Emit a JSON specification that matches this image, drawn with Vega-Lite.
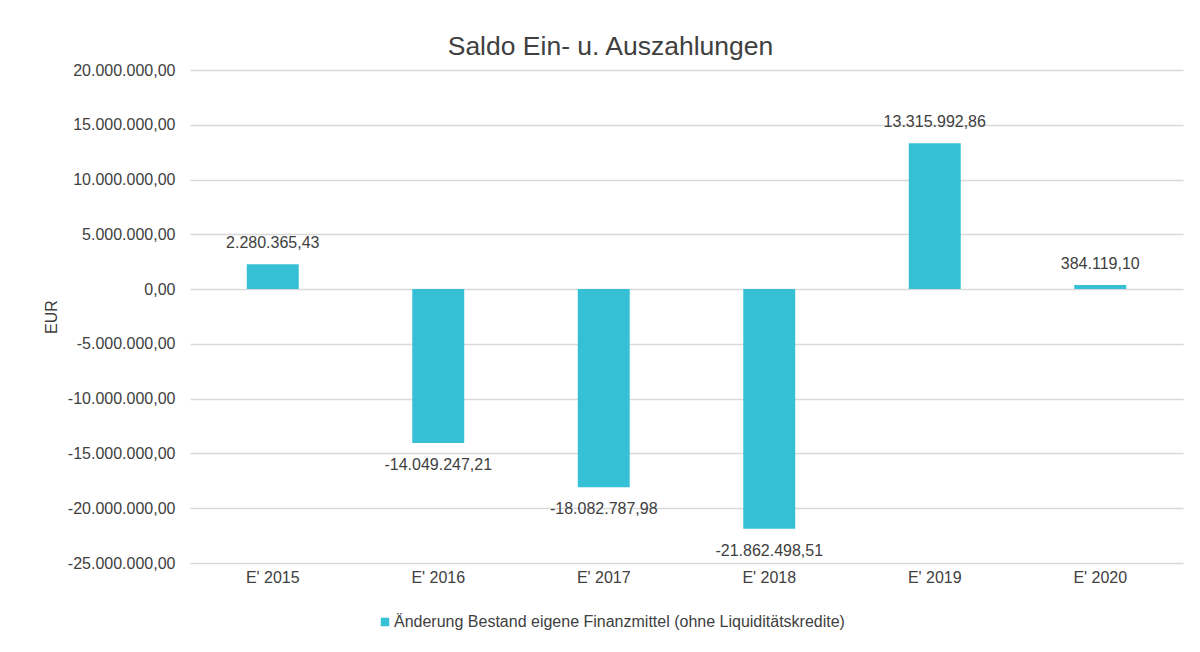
{
  "$schema": "https://vega.github.io/schema/vega-lite/v6.json",
  "width": 993,
  "height": 493,
  "autosize": {"type": "none"},
  "padding": {"left": 190, "top": 70, "right": 17, "bottom": 89},
  "background": "white",
  "config": {
    "locale": {"number": {"decimal": ",", "thousands": ".", "grouping": [3], "currency": ["", " €"], "minus": "-"}},
    "font": "Liberation Sans",
    "view": {"stroke": null}
  },
  "title": {
    "text": "Saldo Ein- u. Auszahlungen",
    "fontSize": 26.5,
    "fontWeight": "normal",
    "color": "#404040",
    "font": "Liberation Sans",
    "anchor": "middle",
    "dx": -76,
    "dy": 33,
    "offset": 14,
    "baseline": "alphabetic"
  },
  "data": {
    "values": [
      {"jahr": "E' 2015", "wert": 2280365.43, "serie": "Änderung Bestand eigene Finanzmittel (ohne Liquiditätskredite)"},
      {"jahr": "E' 2016", "wert": -14049247.21, "serie": "Änderung Bestand eigene Finanzmittel (ohne Liquiditätskredite)"},
      {"jahr": "E' 2017", "wert": -18082787.98, "serie": "Änderung Bestand eigene Finanzmittel (ohne Liquiditätskredite)"},
      {"jahr": "E' 2018", "wert": -21862498.51, "serie": "Änderung Bestand eigene Finanzmittel (ohne Liquiditätskredite)"},
      {"jahr": "E' 2019", "wert": 13315992.86, "serie": "Änderung Bestand eigene Finanzmittel (ohne Liquiditätskredite)"},
      {"jahr": "E' 2020", "wert": 384119.10, "serie": "Änderung Bestand eigene Finanzmittel (ohne Liquiditätskredite)"}
    ]
  },
  "encoding": {
    "x": {
      "field": "jahr",
      "type": "nominal",
      "sort": null,
      "scale": {"paddingInner": 0.686, "paddingOuter": 0.343},
      "axis": {
        "title": null,
        "labelAngle": 0,
        "labelFontSize": 16,
        "labelColor": "#404040",
        "labelPadding": 6,
        "ticks": false,
        "domain": false,
        "grid": false
      }
    },
    "y": {
      "field": "wert",
      "type": "quantitative",
      "scale": {"domain": [-25000000, 20000000], "nice": false, "zero": false},
      "axis": {
        "title": "EUR",
        "titleFontSize": 16,
        "titleFontWeight": "normal",
        "titleColor": "#404040",
        "titleAngle": -90,
        "titleAlign": "center",
        "titleBaseline": "middle",
        "titleX": -138.5,
        "titleY": 246.5,
        "values": [-25000000, -20000000, -15000000, -10000000, -5000000, 0, 5000000, 10000000, 15000000, 20000000],
        "format": ",.2f",
        "labelFontSize": 16,
        "labelColor": "#404040",
        "labelPadding": 15,
        "ticks": false,
        "domain": false,
        "grid": true,
        "gridColor": "#d9d9d9",
        "gridWidth": 1.5
      }
    }
  },
  "layer": [
    {
      "mark": {"type": "bar"},
      "encoding": {
        "color": {
          "field": "serie",
          "type": "nominal",
          "scale": {"range": ["#36c0d5"]},
          "legend": {
            "title": null,
            "orient": "none",
            "legendX": 187,
            "legendY": 544,
            "padding": 0,
            "symbolType": "square",
            "symbolSize": 72,
            "symbolStrokeWidth": 0,
            "labelFontSize": 16,
            "labelColor": "#404040",
            "labelOffset": 1,
            "labelLimit": 800
          }
        }
      }
    },
    {
      "transform": [{"filter": "datum.wert >= 0"}],
      "mark": {"type": "text", "baseline": "middle", "align": "center", "dy": -21, "fontSize": 16, "color": "#404040"},
      "encoding": {"text": {"field": "wert", "type": "quantitative", "format": ",.2f"}}
    },
    {
      "transform": [{"filter": "datum.wert < 0"}],
      "mark": {"type": "text", "baseline": "middle", "align": "center", "dy": 22, "fontSize": 16, "color": "#404040"},
      "encoding": {"text": {"field": "wert", "type": "quantitative", "format": ",.2f"}}
    }
  ]
}
